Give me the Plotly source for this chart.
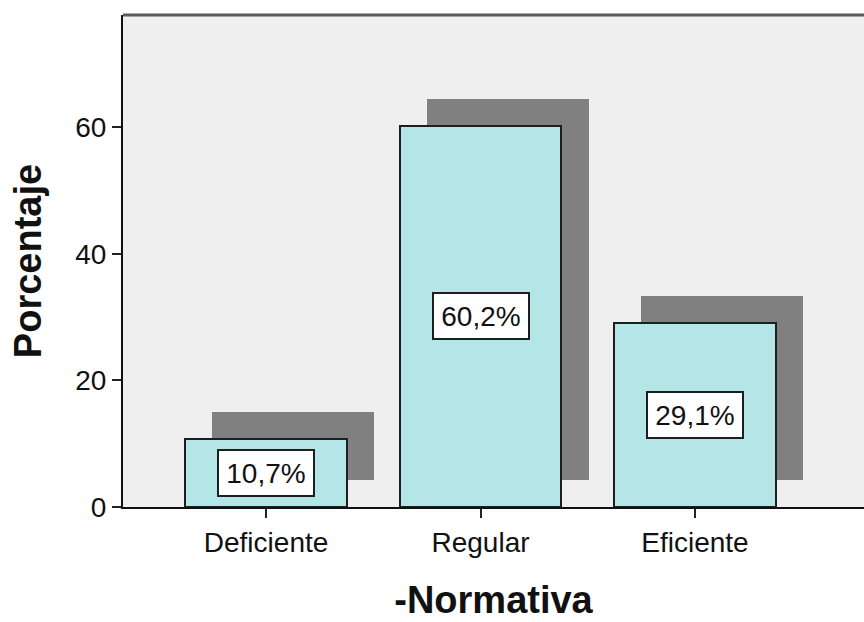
import plotly.graph_objects as go

categories = ["Deficiente", "Regular", "Eficiente"]
percentages = [10.7, 60.2, 29.1]
value_labels = ["10,7%", "60,2%", "29,1%"]
y_tickvals = [0, 20, 40, 60]

FONT = "Liberation Sans, Arial, sans-serif"
BAR_FILL = "#b4e6e8"
SHADOW = "#808080"
EDGE = "#1e1e1e"
BAR_W = 0.755
SH_DX = 0.126   # shadow offset in category units
SH_DY = 4.26    # shadow offset in value units

xpos = list(range(len(categories)))

fig = go.Figure()
# drop shadow
fig.add_trace(go.Bar(
    x=[p + SH_DX for p in xpos], y=percentages, base=[SH_DY] * len(percentages),
    width=BAR_W, marker=dict(color=SHADOW, line=dict(width=0)),
    hoverinfo="skip", showlegend=False))
# main bars
fig.add_trace(go.Bar(
    x=xpos, y=percentages, width=BAR_W,
    marker=dict(color=BAR_FILL, line=dict(color=EDGE, width=2)),
    showlegend=False))

for p, v, t in zip(xpos, percentages, value_labels):
    fig.add_annotation(x=p, y=v / 2, text=t, showarrow=False,
                       font=dict(family=FONT, size=28, color="#111"),
                       bgcolor="white", bordercolor=EDGE, borderwidth=2,
                       borderpad=7, width=80, height=30)

fig.update_layout(
    width=864, height=622,
    margin=dict(l=123, r=0, t=15, b=115),
    paper_bgcolor="white", plot_bgcolor="#efefef",
    barmode="overlay", bargap=0,
    font=dict(family=FONT, color="#111"),
    xaxis=dict(range=[-0.667, 2.788], tickvals=xpos, ticktext=categories,
               ticks="outside", ticklen=9, tickwidth=2, tickcolor="#222",
               showline=True, linecolor="#111", linewidth=2,
               showgrid=False, zeroline=False,
               tickfont=dict(size=28, family=FONT, color="#111"),
               title=dict(text="<b>-Normativa</b>", standoff=30,
                          font=dict(size=38, family=FONT, color="#111"))),
    yaxis=dict(range=[0, 77.7], tickvals=y_tickvals,
               ticks="outside", ticklen=9, tickwidth=2, tickcolor="#222",
               showline=True, linecolor="#111", linewidth=2,
               showgrid=False, zeroline=False,
               tickfont=dict(size=28, family=FONT, color="#111"),
               title=dict(text="<b>Porcentaje</b>", standoff=22,
                          font=dict(size=38, family=FONT, color="#111"))),
)
fig.add_shape(type="line", xref="paper", yref="paper", x0=0, x1=1, y0=1, y1=1,
              line=dict(color="#5a5a5a", width=3))

fig.write_html("out.html")
